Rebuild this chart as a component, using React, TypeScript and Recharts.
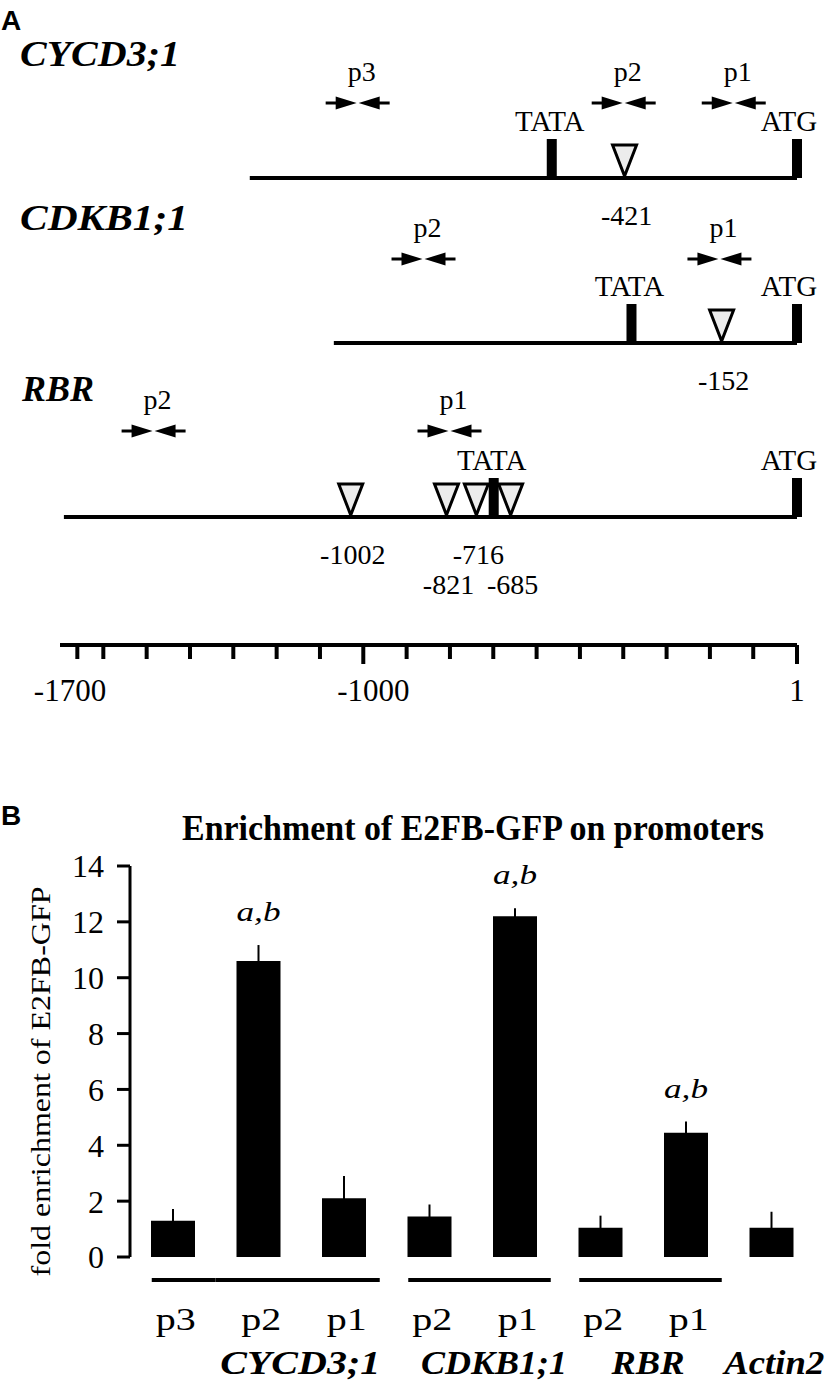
import React from "react";
import {
  ScatterChart,
  Scatter,
  XAxis,
  YAxis,
  ReferenceLine,
  BarChart,
  Bar,
  ErrorBar,
  LabelList,
  Label,
} from "recharts";

const serif = '"Times New Roman", "Liberation Serif", Times, serif';
const sans = 'Arial, "Liberation Sans", sans-serif';

// --- A: promoter maps, positions in bp relative to ATG (+1) ---
const rulerTicks = [-1660, -1600, -1500, -1400, -1300, -1200, -1100, -1000, -900, -800, -700, -600, -500, -400, -300, -200, -100, 1];
const rulerLabels = [-1700, -1000, 1];

const cycdStart = -1262;
const cycdBoxes = [{ pos: -565, name: "TATA" }, { pos: 1, name: "ATG" }];
const cycdSites = [{ pos: -397, name: "-421" }];
const cycdPrimers = [{ pos: -1013, name: "p3" }, { pos: -399, name: "p2" }, { pos: -145, name: "p1" }];

const cdkbStart = -1068;
const cdkbBoxes = [{ pos: -381, name: "TATA" }, { pos: 1, name: "ATG" }];
const cdkbSites = [{ pos: -173, name: "-152" }];
const cdkbPrimers = [{ pos: -861, name: "p2" }, { pos: -178, name: "p1" }];

const rbrStart = -1691;
const rbrBoxes = [{ pos: -699, name: "TATA" }, { pos: 1, name: "ATG" }];
const rbrSites = [
  { pos: -1029, name: "-1002" },
  { pos: -808, name: "-821" },
  { pos: -739, name: "-716" },
  { pos: -660, name: "-685" },
];
const rbrPrimers = [{ pos: -1484, name: "p2" }, { pos: -801, name: "p1" }];

// --- B: ChIP enrichment ---
const probes = ["p3", "p2", "p1", "p2", "p1", "p2", "p1", ""];
const probeGenes = ["CYCD3;1", "CYCD3;1", "CYCD3;1", "CDKB1;1", "CDKB1;1", "RBR", "RBR", "Actin2"];
const enrichment = [1.3, 10.6, 2.1, 1.45, 12.2, 1.05, 4.45, 1.05];
const enrichmentErr = [0.42, 0.57, 0.8, 0.43, 0.29, 0.43, 0.4, 0.57];
const signif = ["", "a,b", "", "", "a,b", "", "a,b", ""];
const yTicks = [0, 2, 4, 6, 8, 10, 12, 14];

const W = 826;
const barLeft = 130;
const barRight = 12;
const band = (W - barLeft - barRight) / probes.length;
const plotH = 391;
const pxPerUnit = plotH / 14;

// label tweaks for the gene names under panel B
const geneShift: Record<string, number> = { "CYCD3;1": 42, "CDKB1;1": 22, RBR: 5, Actin2: 3 };
const geneWidth: Record<string, number> = { "CYCD3;1": 160, "CDKB1;1": 146, RBR: 73, Actin2: 100 };

function BoxMark(props: any) {
  const { cx, cy, payload } = props;
  const atg = payload.name === "ATG";
  return (
    <g>
      <rect x={cx - 5} y={cy - 39} width={10} height={39} fill="#000" />
      <text x={cx + (atg ? -8 : -2)} y={cy - 47} textAnchor="middle" fontFamily={serif} fontSize={29} fill="#000">
        {payload.name}
      </text>
    </g>
  );
}

function SiteMark(props: any) {
  const { cx, cy, payload } = props;
  return (
    <g>
      <polygon
        points={`${cx - 12},${cy - 33} ${cx + 12},${cy - 33} ${cx},${cy - 2}`}
        fill="#ececec"
        stroke="#000"
        strokeWidth={3}
      />
      <text x={cx + 2} y={cy + 47 + payload.row * 30} textAnchor="middle" fontFamily={serif} fontSize={28} fill="#000">
        {payload.name}
      </text>
    </g>
  );
}

function PrimerMark(props: any) {
  const { cx, cy, payload } = props;
  return (
    <g>
      <line x1={cx - 32} x2={cx - 20} y1={cy} y2={cy} stroke="#000" strokeWidth={3} />
      <polygon points={`${cx - 22},${cy - 6.5} ${cx - 1},${cy} ${cx - 22},${cy + 6.5}`} fill="#000" />
      <polygon points={`${cx + 22},${cy - 6.5} ${cx + 1},${cy} ${cx + 22},${cy + 6.5}`} fill="#000" />
      <line x1={cx + 20} x2={cx + 32} y1={cy} y2={cy} stroke="#000" strokeWidth={3} />
      <text x={cx + 4} y={cy - 22} textAnchor="middle" fontFamily={serif} fontSize={28} fill="#000">
        {payload.name}
      </text>
    </g>
  );
}

function Track({ start, boxes, sites, primers, primerY, lineY }: any) {
  const h = lineY - primerY;
  const boxData = boxes.map((b: any) => ({ ...b, y: 0 }));
  const siteData = [...sites].sort((a: any, b: any) => a.pos - b.pos).map((s: any, i: number) => ({ ...s, y: 0, row: i % 2 }));
  const primerData = primers.map((p: any) => ({ ...p, y: 1 }));
  return (
    <div style={{ position: "absolute", left: 0, top: primerY - 50 }}>
      <ScatterChart width={W} height={50 + h + 100} margin={{ top: 50, right: 29, bottom: 100, left: 60 }}>
        <XAxis type="number" dataKey="pos" domain={[-1700, 1]} hide />
        <YAxis type="number" dataKey="y" domain={[0, 1]} hide />
        <ReferenceLine
          segment={[{ x: start, y: 0 }, { x: 1, y: 0 }]}
          stroke="#000"
          strokeWidth={4}
          ifOverflow="visible"
        />
        <Scatter data={boxData} shape={BoxMark} isAnimationActive={false} />
        <Scatter data={siteData} shape={SiteMark} isAnimationActive={false} />
        <Scatter data={primerData} shape={PrimerMark} isAnimationActive={false} />
      </ScatterChart>
    </div>
  );
}

function RulerTick(props: any) {
  const { x, y, payload } = props;
  const v = payload.value;
  const isTick = rulerTicks.includes(v);
  const long = v === -1000 || v === 1;
  return (
    <g>
      {isTick && <line x1={x} x2={x} y1={y} y2={y + (long ? 19 : 14)} stroke="#000" strokeWidth={4} />}
      {rulerLabels.includes(v) && (
        <text x={x + (v === 1 ? 0 : 10)} y={y + 56} textAnchor="middle" fontFamily={serif} fontSize={31} fill="#000">
          {v}
        </text>
      )}
    </g>
  );
}

function Ruler() {
  const ticks = [-1700, ...rulerTicks];
  return (
    <div style={{ position: "absolute", left: 0, top: 600 }}>
      <ScatterChart width={W} height={120} margin={{ top: 0, right: 29, bottom: 0, left: 60 }}>
        <XAxis
          type="number"
          dataKey="pos"
          domain={[-1700, 1]}
          ticks={ticks}
          interval={0}
          height={75}
          tickSize={0}
          tickMargin={0}
          tickLine={false}
          axisLine={{ stroke: "#000", strokeWidth: 4 }}
          tick={<RulerTick />}
        />
        <YAxis type="number" dataKey="y" domain={[0, 1]} hide />
        <Scatter data={rulerTicks.map((p) => ({ pos: p, y: 0 }))} shape={() => <g />} isAnimationActive={false} />
      </ScatterChart>
    </div>
  );
}

function CatTick(props: any) {
  const { x, y, payload } = props;
  const i = Number(payload.value);
  const gene = probeGenes[i];
  const first = i === 0 || probeGenes[i - 1] !== gene;
  const last = i === probes.length - 1 || probeGenes[i + 1] !== gene;
  const size = probeGenes.filter((g) => g === gene).length;
  return (
    <g>
      {size > 1 && (
        <line
          x1={first ? x - 21 : x - band / 2}
          x2={last ? x + 36 : x + band / 2}
          y1={y + 23}
          y2={y + 23}
          stroke="#000"
          strokeWidth={4}
        />
      )}
      {probes[i] && (
        <text x={x + 3} y={y + 73} textAnchor="middle" fontFamily={serif} fontSize={31} fill="#000" textLength={40} lengthAdjust="spacingAndGlyphs">
          {probes[i]}
        </text>
      )}
      {first && (
        <text
          x={x + ((size - 1) * band) / 2 + geneShift[gene]}
          y={y + 117}
          textAnchor="middle"
          fontFamily={serif}
          fontWeight="bold"
          fontStyle="italic"
          fontSize={34}
          fill="#000"
          textLength={geneWidth[gene]}
          lengthAdjust="spacingAndGlyphs"
        >
          {gene}
        </text>
      )}
    </g>
  );
}

function MarkLabel(props: any) {
  const { x, y, width, index, value } = props;
  if (!value) return null;
  const top = y - enrichmentErr[index] * pxPerUnit;
  return (
    <text x={x + width / 2} y={top - 24} textAnchor="middle" fontFamily={serif} fontStyle="italic" fontSize={28} fill="#000" textLength={44} lengthAdjust="spacingAndGlyphs">
      {value}
    </text>
  );
}

function YLabel(props: any) {
  const vb = props.viewBox || { x: 0, y: 46, width: 130, height: plotH };
  const cy = vb.y + vb.height / 2 + 20;
  return (
    <text
      x={50}
      y={cy}
      transform={`rotate(-90, 50, ${cy})`}
      textAnchor="middle"
      fontFamily={serif}
      fontSize={27}
      fill="#000"
      textLength={390}
      lengthAdjust="spacingAndGlyphs"
    >
      fold enrichment of E2FB-GFP
    </text>
  );
}

function EnrichmentChart() {
  const data = probes.map((p, i) => ({
    key: String(i),
    probe: p,
    value: enrichment[i],
    err: enrichmentErr[i],
    mark: signif[i],
  }));
  return (
    <div style={{ position: "absolute", left: 0, top: 820 }}>
      <BarChart width={W} height={562} data={data} margin={{ top: 46, right: barRight, bottom: 0, left: 0 }}>
        <XAxis
          xAxisId="grid"
          type="number"
          domain={[0, probes.length]}
          ticks={probes.map((_, i) => i).concat(probes.length)}
          interval={0}
          height={0}
          tickSize={9}
          axisLine={{ stroke: "#000", strokeWidth: 3 }}
          tickLine={{ stroke: "#000", strokeWidth: 3 }}
          tick={() => <g />}
        />
        <XAxis
          xAxisId="cat"
          dataKey="key"
          height={125}
          axisLine={false}
          tickLine={false}
          tickSize={0}
          tickMargin={0}
          interval={0}
          tick={<CatTick />}
        />
        <YAxis
          domain={[0, 14]}
          ticks={yTicks}
          interval={0}
          width={barLeft}
          tickSize={13}
          tickMargin={13}
          axisLine={{ stroke: "#000", strokeWidth: 3 }}
          tickLine={{ stroke: "#000", strokeWidth: 3 }}
          tick={{ fill: "#000", fontSize: 32, fontFamily: serif }}
        >
          <Label content={YLabel} />
        </YAxis>
        <Bar xAxisId="cat" dataKey="value" fill="#000" barSize={44} isAnimationActive={false}>
          <ErrorBar dataKey="err" width={0} stroke="#000" strokeWidth={2} direction="y" />
          <LabelList dataKey="mark" content={MarkLabel} />
        </Bar>
      </BarChart>
    </div>
  );
}

export default function App() {
  return (
    <div style={{ position: "absolute", left: 0, top: 0, width: W, height: 1382, background: "#fff" }}>
      <Track start={cycdStart} boxes={cycdBoxes} sites={cycdSites} primers={cycdPrimers} primerY={103} lineY={178} />
      <Track start={cdkbStart} boxes={cdkbBoxes} sites={cdkbSites} primers={cdkbPrimers} primerY={259} lineY={343} />
      <Track start={rbrStart} boxes={rbrBoxes} sites={rbrSites} primers={rbrPrimers} primerY={431} lineY={517} />
      <Ruler />
      <EnrichmentChart />
      <svg width={W} height={1382} style={{ position: "absolute", left: 0, top: 0, pointerEvents: "none" }}>
        <text x={1} y={30} fontFamily={sans} fontWeight="bold" fontSize={28} fill="#000">A</text>
        <text x={20} y={66} fontFamily={serif} fontWeight="bold" fontStyle="italic" fontSize={35} fill="#000" textLength={160} lengthAdjust="spacingAndGlyphs">CYCD3;1</text>
        <text x={20} y={230} fontFamily={serif} fontWeight="bold" fontStyle="italic" fontSize={35} fill="#000" textLength={168} lengthAdjust="spacingAndGlyphs">CDKB1;1</text>
        <text x={22} y={401} fontFamily={serif} fontWeight="bold" fontStyle="italic" fontSize={35} fill="#000" textLength={72} lengthAdjust="spacingAndGlyphs">RBR</text>
        <text x={1} y={825} fontFamily={sans} fontWeight="bold" fontSize={28} fill="#000">B</text>
        <text x={473} y={840} textAnchor="middle" fontFamily={serif} fontWeight="bold" fontSize={36} fill="#000" textLength={582} lengthAdjust="spacingAndGlyphs">Enrichment of E2FB-GFP on promoters</text>
      </svg>
    </div>
  );
}
